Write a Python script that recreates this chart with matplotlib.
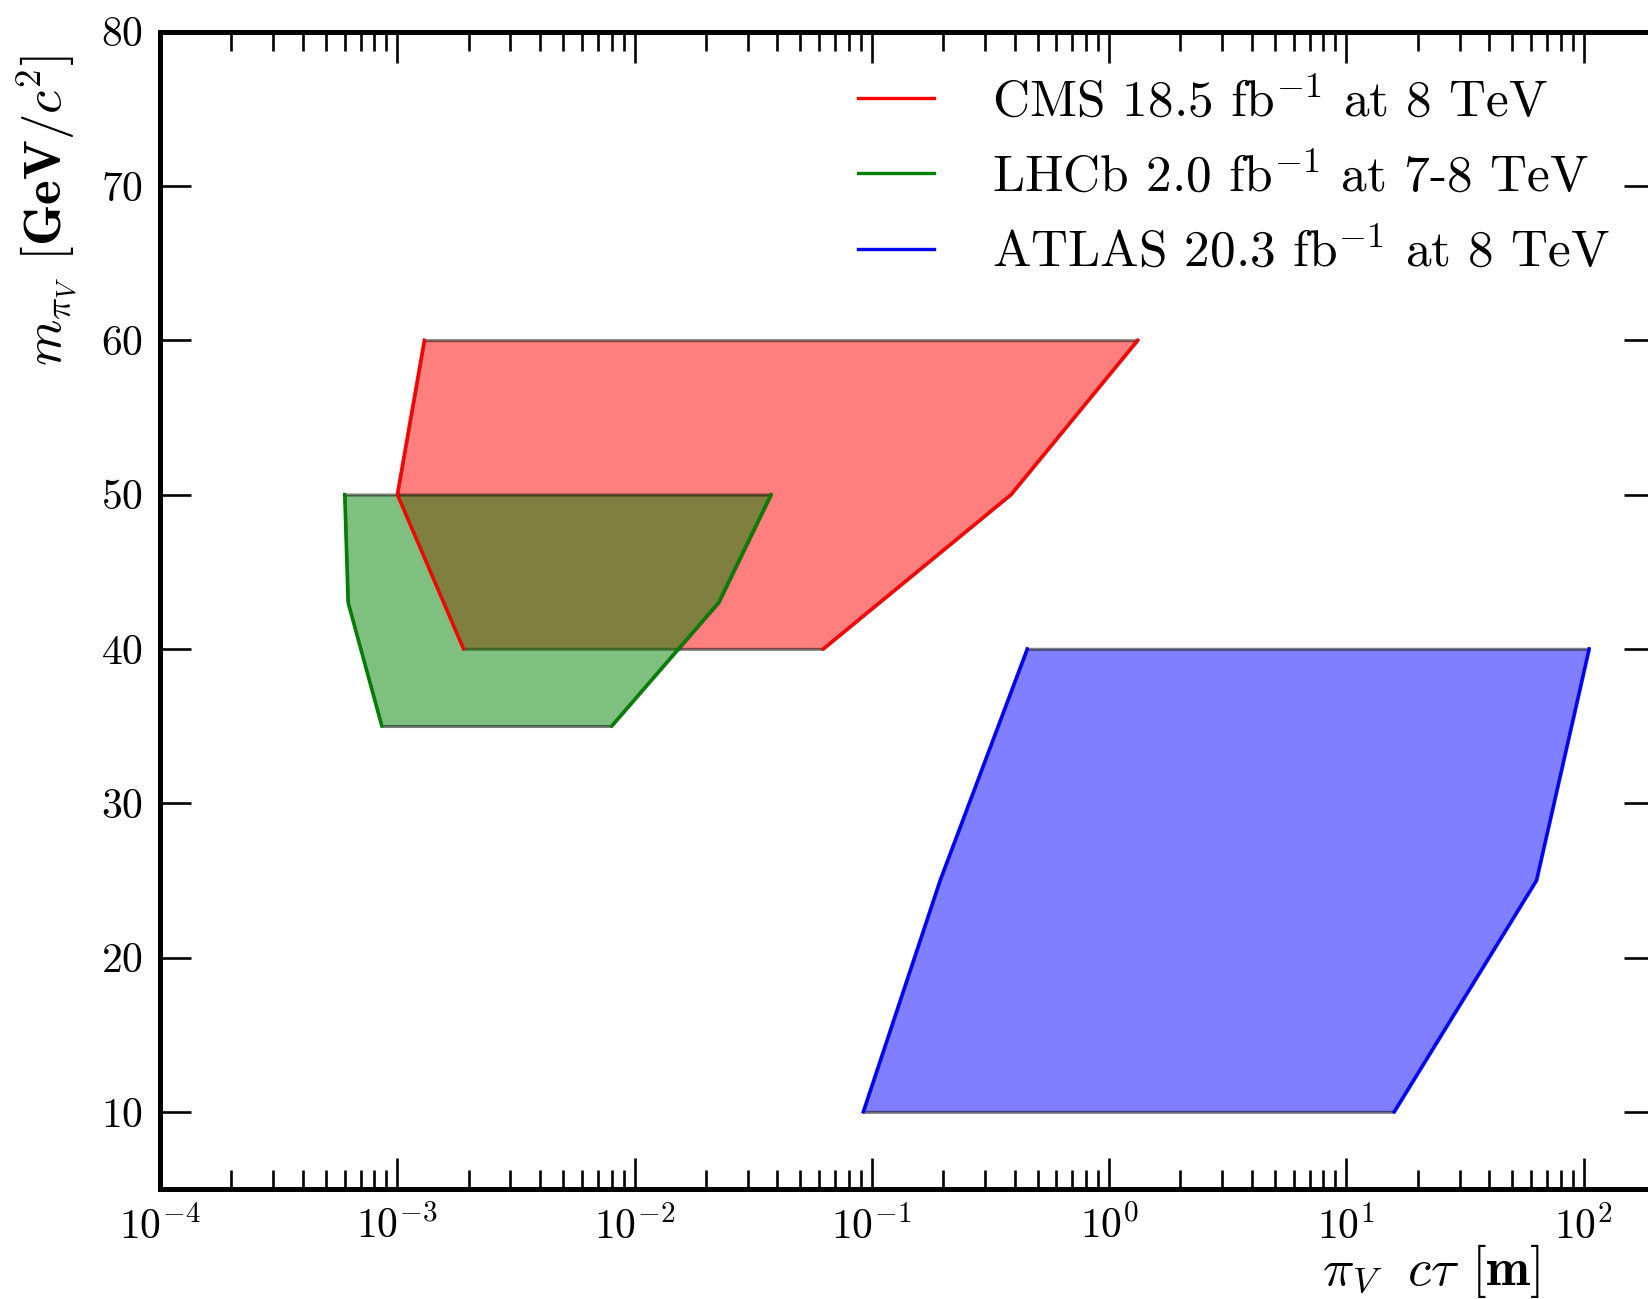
import matplotlib
matplotlib.use('Agg')
import matplotlib.pyplot as plt
from matplotlib.ticker import LogLocator, MultipleLocator, NullFormatter

plt.rcParams['font.family'] = 'serif'
plt.rcParams['font.serif'] = ['cmr10']
plt.rcParams['mathtext.fontset'] = 'cm'
plt.rcParams['axes.formatter.use_mathtext'] = True

# mass points and lifetime boundaries (left edge, right edge) of each region
cms_mass = [40, 50, 60]
cms_ctau_lo = [1.9e-3, 1.0e-3, 1.3e-3]
cms_ctau_hi = [0.0624, 0.386, 1.32]

lhcb_mass = [35, 43, 50]
lhcb_ctau_lo = [8.6e-4, 6.2e-4, 6.0e-4]
lhcb_ctau_hi = [8.0e-3, 0.0226, 0.0376]

atlas_mass = [10, 25, 40]
atlas_ctau_lo = [0.092, 0.194, 0.452]
atlas_ctau_hi = [15.9, 63.3, 105.5]

labels = [r'CMS 18.5 fb$^{-1}$ at 8 TeV',
          r'LHCb 2.0 fb$^{-1}$ at 7-8 TeV',
          r'ATLAS 20.3 fb$^{-1}$ at 8 TeV']
colors = ['r', 'g', 'b']

fig = plt.figure(figsize=(16.48, 12.99), dpi=100)
ax = fig.add_axes([160/1648., 110/1299., 1495/1648., 1157.5/1299.])

regions = [(cms_mass, cms_ctau_lo, cms_ctau_hi),
           (lhcb_mass, lhcb_ctau_lo, lhcb_ctau_hi),
           (atlas_mass, atlas_ctau_lo, atlas_ctau_hi)]

for (m, lo, hi), c, lab in zip(regions, colors, labels):
    ax.fill_betweenx(m, lo, hi, facecolor=c, edgecolor='k', alpha=0.5, linewidth=2.2)
    ax.plot(lo, m, color=c, lw=2.4, label=lab)
    ax.plot(hi, m, color=c, lw=2.4)

ax.set_xscale('log')
ax.set_xlim(1e-4, 2e2)
ax.set_ylim(5, 80)
ax.yaxis.set_major_locator(MultipleLocator(10))
ax.xaxis.set_major_locator(LogLocator(base=10, numticks=20))
ax.xaxis.set_minor_locator(LogLocator(base=10, subs=range(2, 10), numticks=20))
ax.xaxis.set_minor_formatter(NullFormatter())

for s in ax.spines.values():
    s.set_linewidth(3.6)
ax.tick_params(which='both', direction='in', top=True, right=True, labelsize=30)
ax.tick_params(which='major', length=22, width=1.9, pad=12)
ax.tick_params(which='minor', length=14, width=1.9)

ax.set_xlabel(r'$\pi_V\ \ c\tau$ $\mathbf{[m]}$', fontsize=38, ha='right')
ax.xaxis.set_label_coords(0.923, -0.046)
ax.set_ylabel(r'$m_{\pi_V}$ $\mathbf{[GeV/}c^2\mathbf{]}$', fontsize=38, ha='right')
ax.yaxis.set_label_coords(-0.054, 0.98)

leg = ax.legend(loc='upper left', bbox_to_anchor=(0.436, 1.0), frameon=False,
                fontsize=37, handlelength=1.48, handletextpad=1.12, labelspacing=0.52)
for h in leg.get_lines():
    h.set_linewidth(2.4)

fig.savefig('out.png', dpi=100)
